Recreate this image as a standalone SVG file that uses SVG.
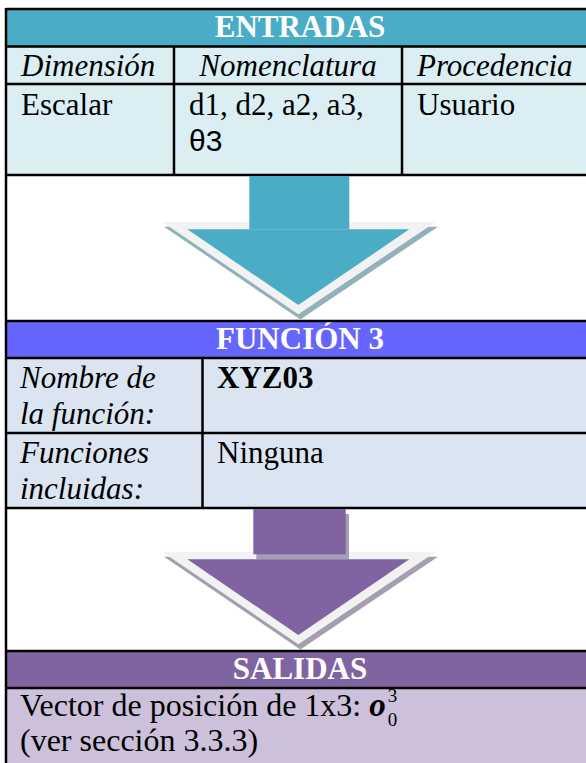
<svg xmlns="http://www.w3.org/2000/svg" width="586" height="763" viewBox="0 0 586 763">
<style>
.t{font-family:"Liberation Serif","Times New Roman",serif;font-size:31px;fill:#000}
.i{font-style:italic}
.h{font-weight:bold;fill:#fff;text-anchor:middle}
.b{font-weight:bold}
.s{font-family:"Liberation Sans",Arial,sans-serif;font-size:30px;fill:#000}
.ln{stroke:#000;stroke-width:2.5;fill:none}
</style>
<rect x="0" y="0" width="586" height="763" fill="#fff"/>
<g id="entradas">
<rect x="6" y="9" width="580" height="37.5" fill="#4BACC6"/>
<rect x="6" y="46.5" width="580" height="128.5" fill="#DAEEF3"/>
<text class="t h" x="300" y="37">ENTRADAS</text>
<text class="t i" x="21" y="76">Dimensión</text>
<text class="t i" x="288" y="76" text-anchor="middle">Nomenclatura</text>
<text class="t i" x="417" y="76">Procedencia</text>
<text class="t" x="21" y="115">Escalar</text>
<text class="t" x="189" y="115">d1, d2, a2, a3,</text>
<text class="s" x="189" y="151">θ3</text>
<text class="t" x="417" y="115">Usuario</text>
<path class="ln" d="M6 9H586M6 46.5H586M6 84H586M6 175H586M174 46.5V175M402 46.5V175"/>
</g>
<g id="funcion">
<rect x="6" y="321" width="580" height="37" fill="#6666FF"/>
<rect x="6" y="358" width="580" height="150" fill="#DBE5F1"/>
<text class="t h" x="300" y="349">FUNCIÓN 3</text>
<text class="t i" x="20" y="388">Nombre de</text>
<text class="t i" x="20" y="424">la función:</text>
<text class="t b" x="217" y="388">XYZ03</text>
<text class="t i" x="20" y="463">Funciones</text>
<text class="t i" x="20" y="499">incluidas:</text>
<text class="t" x="217" y="463">Ninguna</text>
<path class="ln" d="M6 321H586M6 358H586M6 433H586M6 508H586M202.5 358V508"/>
</g>
<g id="salidas">
<rect x="6" y="651" width="580" height="37" fill="#8064A2"/>
<rect x="6" y="688" width="580" height="75" fill="#CCC0DA"/>
<text class="t h" x="300" y="679">SALIDAS</text>
<text class="t" x="20" y="716" style="font-size:32px">Vector de posición de 1x3: <tspan style="font-weight:bold;font-style:italic;font-size:33px">o</tspan><tspan dx="2" dy="-14" style="font-size:19px">3</tspan><tspan dx="-9.5" dy="24" style="font-size:19px">0</tspan></text>
<text class="t" x="20" y="751" style="font-size:32px">(ver sección 3.3.3)</text>
<path class="ln" d="M6 651H586M6 688H586"/>
</g>
<g id="connectors">
<g id="arrow1">
<polygon points="164,226.7 438,226.7 300.3,319.5" fill="#93B1B9"/>
<polygon points="162,221.7 436,221.7 298.3,314.3" fill="#F2F2F2"/>
<polygon points="187.3,229.3 409.3,229.3 298.3,305" fill="#4BACC6"/>
<rect x="249.3" y="176" width="100" height="53.3" fill="#4BACC6"/>
</g>
<g id="arrow2">
<polygon points="164,556.7 438,556.7 300.3,649.5" fill="#A59DB0"/>
<polygon points="162,551.7 436,551.7 298.3,644.3" fill="#F2F2F2"/>
<rect x="256.3" y="514" width="92.7" height="45.3" fill="#A59DB0"/>
<polygon points="187.3,559.3 409.3,559.3 298.3,635" fill="#8064A2"/>
<rect x="253.3" y="509" width="92.4" height="45.3" fill="#8064A2"/>
</g>
</g>
<path class="ln" d="M6 8V763"/>
</svg>
